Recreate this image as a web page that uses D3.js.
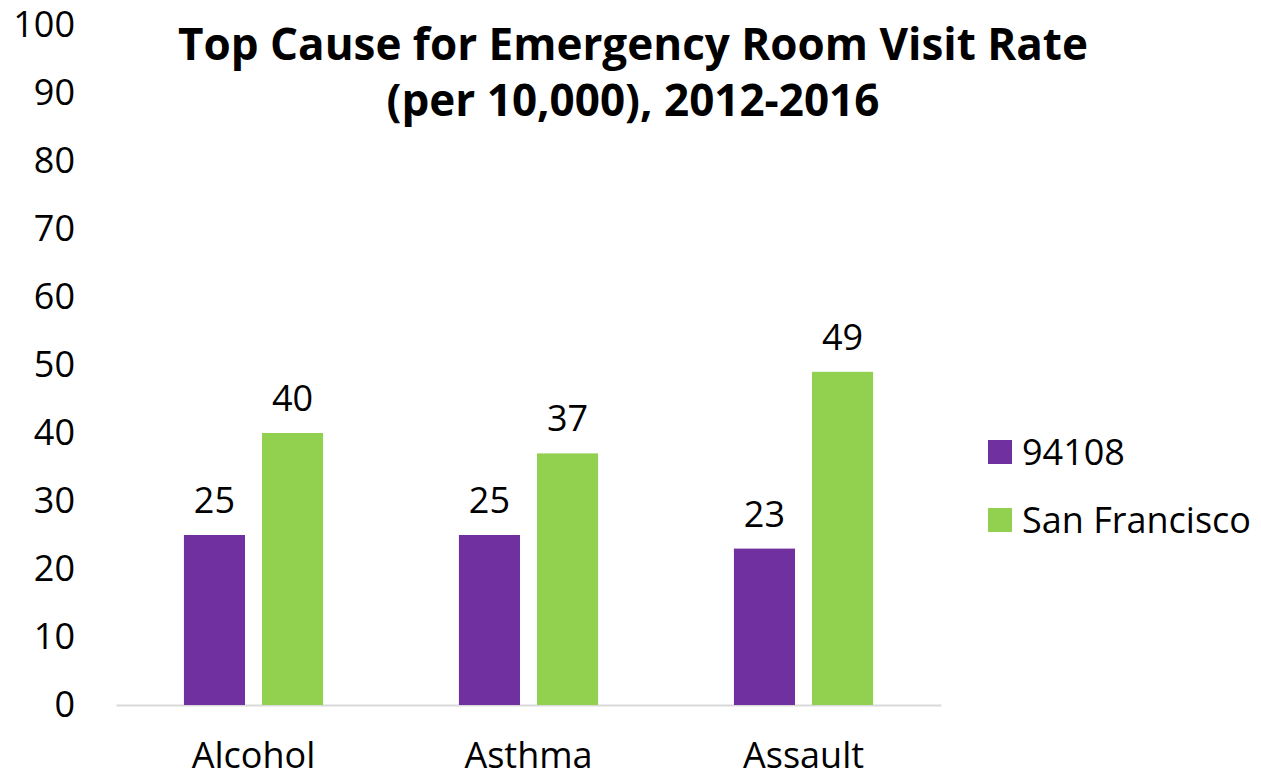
<!DOCTYPE html>
<html>
<head>
<meta charset="utf-8">
<script src="https://d3js.org/d3.v7.min.js"></script>
<style>
  body { margin: 0; background: #fff; }
  text { font-family: "Open Sans", sans-serif; fill: #000; }
</style>
</head>
<body>
<div id="chart"></div>
<script>
// data
var categories = ["Alcohol", "Asthma", "Assault"];
var series = ["94108", "San Francisco"];
var zipValues = [25, 25, 23];
var sfValues = [40, 37, 49];
var seriesColors = ["#7030a0", "#92d050"];
var yTicks = [0, 10, 20, 30, 40, 50, 60, 70, 80, 90, 100];
var titleLines = ["Top Cause for Emergency Room Visit Rate", "(per 10,000), 2012-2016"];

var width = 1261, height = 779;
var margin = {top: 25, right: 320, bottom: 74, left: 116};
var plotW = 941 - margin.left;
var plotH = 705 - margin.top;

var svg = d3.select("#chart").append("svg").attr("width", width).attr("height", height);

var data = categories.map(function(c, i) {
    return {cat: c, values: [zipValues[i], sfValues[i]]};
});

var x0 = d3.scaleBand().domain(categories).range([0, plotW]).padding(0);
var x1 = d3.scaleBand().domain(series)
    .range([x0.bandwidth() * 0.247, x0.bandwidth() * 0.753]).paddingInner(17 / 78);
var y = d3.scaleLinear().domain([0, 100]).range([plotH, 0]);
var color = d3.scaleOrdinal().domain(series).range(seriesColors);

var g = svg.append("g").attr("transform", `translate(${margin.left},${margin.top})`);

// y axis: labels only
var yAxis = g.append("g")
    .call(d3.axisLeft(y).tickValues(yTicks).tickSize(0).tickPadding(41));
yAxis.select(".domain").remove();
yAxis.selectAll("text").style("font-size", "36px").style("font-family", "'Open Sans', sans-serif").attr("fill", "#000");

// x axis
var xAxis = g.append("g")
    .attr("transform", `translate(0,${plotH})`)
    .call(d3.axisBottom(x0).tickSize(0).tickPadding(37));
xAxis.select(".domain").attr("stroke", "#d9d9d9").attr("stroke-width", 2);
xAxis.selectAll("text").style("font-size", "36px").style("font-family", "'Open Sans', sans-serif").attr("fill", "#000");

var groups = g.selectAll(".grp").data(data).enter().append("g")
    .attr("class", "grp")
    .attr("transform", d => `translate(${x0(d.cat)},0)`);

var cells = groups.selectAll(".cell")
    .data(d => d.values.map((v, i) => ({key: series[i], value: v})))
    .enter();

cells.append("rect")
    .attr("x", d => x1(d.key))
    .attr("y", d => y(d.value))
    .attr("width", x1.bandwidth())
    .attr("height", d => plotH - y(d.value))
    .attr("fill", d => color(d.key));

cells.append("text")
    .attr("x", d => x1(d.key) + x1.bandwidth() / 2)
    .attr("y", d => y(d.value) - 22)
    .attr("text-anchor", "middle")
    .style("font-size", "36px")
    .text(d => d.value);

// title
var title = svg.append("text")
    .attr("text-anchor", "middle")
    .style("font-size", "44px")
    .style("font-weight", "bold");
title.selectAll("tspan").data(titleLines).enter().append("tspan")
    .attr("x", 633)
    .attr("y", (d, i) => 60 + i * 56)
    .text(d => d);

// legend
var legend = svg.append("g").attr("transform", "translate(988,440)");
var items = legend.selectAll(".item").data(series).enter().append("g")
    .attr("transform", (d, i) => `translate(0,${i * 68})`);
items.append("rect").attr("width", 24).attr("height", 24).attr("fill", d => color(d));
items.append("text").attr("x", 34).attr("y", 25).style("font-size", "36px").text(d => d);
</script>
</body>
</html>
